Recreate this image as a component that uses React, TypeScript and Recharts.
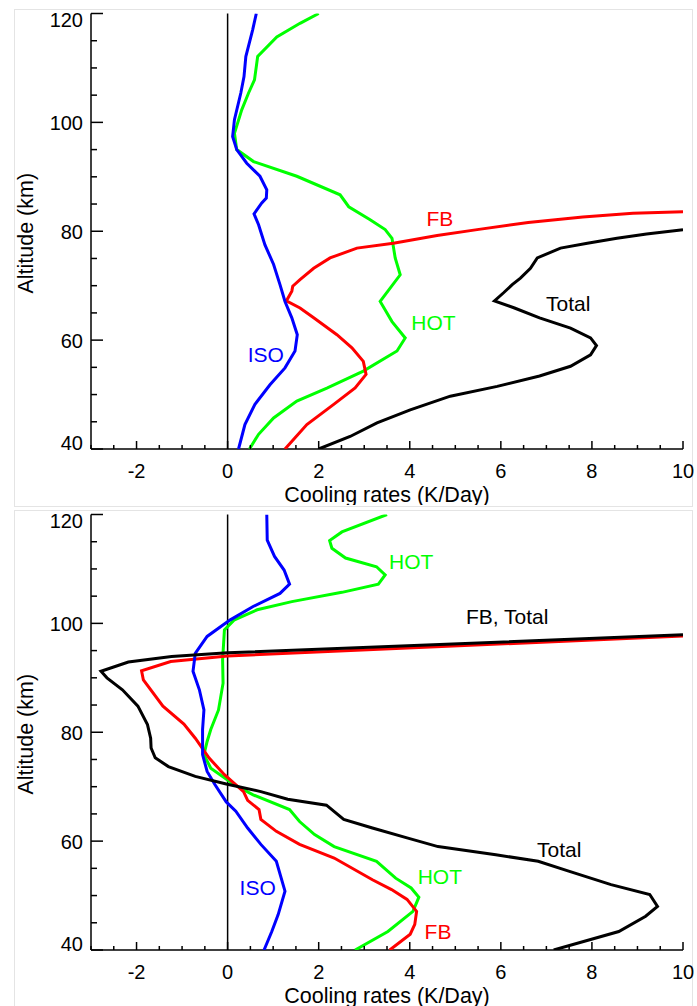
import React from "react";
import { ScatterChart, Scatter, XAxis, YAxis, ReferenceLine } from "recharts";

const FONT = '"Liberation Sans", Arial, Helvetica, sans-serif';

// each point is [altitude (km), cooling rate (K/day)]
type Pt = [number, number];

// ---- upper panel ----
const isoUpper: Pt[] = [
  [120, 0.63], [117, 0.55], [112.1, 0.4], [108.4, 0.36], [105.4, 0.29], [100.5, 0.15],
  [97.4, 0.11], [95, 0.2], [92.5, 0.42], [90.1, 0.71], [87.6, 0.86], [86.1, 0.85],
  [85.2, 0.75], [83.2, 0.58], [81.2, 0.68], [77.5, 0.82], [73.9, 1.01], [70.2, 1.15],
  [67.1, 1.26], [64.1, 1.41], [61, 1.53], [58, 1.48], [54.9, 1.26], [51.8, 0.93],
  [48.2, 0.6], [44.5, 0.38], [40, 0.24],
];
const hotUpper: Pt[] = [
  [120, 2.0], [118.2, 1.59], [115.7, 1.08], [112.1, 0.66], [107.8, 0.59], [105.4, 0.46],
  [102.3, 0.31], [98, 0.15], [95, 0.2], [92.8, 0.57], [90.1, 1.52], [86.7, 2.47],
  [84.5, 2.66], [82.1, 3.13], [80.3, 3.46], [78.7, 3.61], [75.1, 3.68], [72, 3.79],
  [67.1, 3.35], [63.4, 3.61], [60.4, 3.9], [58, 3.72], [54.3, 2.98], [51.2, 2.18],
  [48.8, 1.52], [45.7, 1.01], [42.7, 0.68], [40, 0.48],
];
const fbUpper: Pt[] = [
  [83.6, 10.0], [83.3, 8.9], [82.6, 7.8], [81.6, 6.6], [80.3, 5.48], [79.2, 4.6],
  [77.8, 3.64], [76.9, 2.84], [75.1, 2.25], [73.2, 1.89], [71.1, 1.59], [69.9, 1.43],
  [69, 1.41], [67.2, 1.29], [65.9, 1.59], [64.1, 1.89], [61, 2.4], [58.6, 2.73],
  [56.1, 2.98], [53.7, 3.04], [51.2, 2.8], [48.2, 2.33], [44.5, 1.74], [40, 1.26],
];
const totalUpper: Pt[] = [
  [80.3, 10.0], [79.5, 9.2], [78.7, 8.55], [77.8, 7.9], [76.9, 7.31], [75.1, 6.8],
  [73.2, 6.65], [71.4, 6.43], [70.2, 6.25], [68.7, 6.06], [67.2, 5.86], [65.9, 6.3],
  [64.1, 6.85], [62.2, 7.53], [60.4, 7.97], [59, 8.1], [57.3, 7.97], [55.2, 7.53],
  [53.4, 6.85], [51.5, 5.92], [49.7, 4.89], [47.2, 4.01], [44.8, 3.28], [42.3, 2.69],
  [40, 2.0],
];

// ---- lower panel ----
const isoLower: Pt[] = [
  [120, 0.86], [115.3, 0.87], [112.3, 1.03], [109.8, 1.24], [107.2, 1.36], [105.5, 1.15],
  [103.1, 0.56], [100.6, 0.05], [97.6, -0.45], [94.5, -0.71], [91.2, -0.76], [87.8, -0.62],
  [84.1, -0.52], [80.5, -0.55], [75.9, -0.55], [72.8, -0.45], [70.4, -0.28], [67.2, -0.03],
  [65.5, 0.18], [62.4, 0.44], [59.4, 0.73], [56.3, 1.07], [50.8, 1.26], [46.5, 1.11],
  [43.4, 0.97], [40, 0.8],
];
const hotLower: Pt[] = [
  [120, 3.5], [116.8, 2.51], [115.2, 2.24], [113.8, 2.29], [112, 2.59], [110.4, 3.27],
  [108.9, 3.46], [107.2, 3.31], [105.7, 2.51], [104, 1.41], [102.5, 0.65], [100.6, 0.14],
  [98.8, -0.07], [93.3, -0.11], [89, -0.1], [84.1, -0.2], [80.5, -0.37], [78.3, -0.45],
  [75.9, -0.52], [73.4, -0.37], [70.4, 0.14], [68.5, 0.56], [65.8, 1.36], [63.6, 1.58],
  [61.2, 1.91], [59, 2.34], [56.3, 3.27], [53.2, 3.69], [51.4, 4.03], [49.7, 4.2],
  [47.1, 4.07], [43.4, 3.52], [40, 2.8],
];
const fbLower: Pt[] = [
  [97.7, 10.0], [94, 0.0], [93, -1.25], [91.3, -1.89], [89.6, -1.85], [84.8, -1.42],
  [81.5, -0.96], [78.9, -0.71], [75.3, -0.41], [72.2, -0.07], [69.1, 0.35], [67.5, 0.44],
  [65.8, 0.69], [64, 0.73], [61.8, 1.07], [59.4, 1.58], [56.9, 2.34], [52.9, 3.18],
  [51.1, 3.6], [49.3, 3.94], [47.1, 4.15], [44.7, 4.11], [42.9, 4.01], [40, 3.56],
];
const totalLower: Pt[] = [
  [97.9, 10.0], [94.6, 0.0], [93.9, -1.23], [92.9, -2.18], [91.2, -2.78], [90, -2.65],
  [87.8, -2.31], [84.8, -1.97], [81.4, -1.76], [78.9, -1.69], [77.1, -1.68], [75.3, -1.59],
  [73.7, -1.3], [71.9, -0.71], [70.5, -0.03], [69.1, 0.73], [67.7, 1.32], [66.6, 2.17],
  [64, 2.55], [62.4, 3.18], [60.6, 3.94], [59, 4.62], [57.5, 5.89], [56.3, 6.82],
  [54.5, 7.49], [52, 8.42], [50.2, 9.27], [48, 9.44], [46.2, 9.18], [43.4, 8.59],
  [40, 7.16],
];

// curve labels: [altitude, rate, text]
type Lbl = [number, number, string];
const labelsUpper: Lbl[] = [
  [82.4, 4.66, "FB"], [63.2, 4.52, "HOT"], [66.7, 7.48, "Total"], [57.3, 0.84, "ISO"],
];
const labelsLower: Lbl[] = [
  [111.3, 4.03, "HOT"], [101.2, 6.14, "FB, Total"], [58.4, 7.28, "Total"],
  [53.5, 4.66, "HOT"], [43.4, 4.62, "FB"], [51.4, 0.66, "ISO"],
];

const rateTicks = [
  -3, -2.5, -2, -1.5, -1, -0.5, 0, 0.5, 1, 1.5, 2, 2.5, 3, 3.5, 4, 4.5, 5, 5.5, 6, 6.5,
  7, 7.5, 8, 8.5, 9, 9.5, 10,
];
const altTicks = [40, 45, 50, 55, 60, 65, 70, 75, 80, 85, 90, 95, 100, 105, 110, 115, 120];

const BLUE = "#0000ff";
const GREEN = "#00ff00";
const RED = "#ff0000";
const BLACK = "#000000";

const toRows = (pts: Pt[]) => pts.map(([alt, rate]) => ({ alt, rate }));

const RateTick = (props: any) => {
  const { x, y, payload, side } = props;
  const v = payload.value;
  const major = v % 2 === 0;
  const len = major ? 8 : 4;
  const dir = side === "bottom" ? -1 : 1;
  return (
    <g>
      <line x1={x} x2={x} y1={y} y2={y + dir * len} stroke={BLACK} strokeWidth={1.5} />
      {side === "bottom" && major && (
        <text x={x} y={y + 28.5} textAnchor="middle" fontSize={20} fontFamily={FONT} fill={BLACK}>
          {v}
        </text>
      )}
    </g>
  );
};

const AltTick = (props: any) => {
  const { x, y, payload, side } = props;
  const v = payload.value;
  const major = v % 20 === 0;
  const len = major ? 12 : 6;
  const dir = side === "left" ? 1 : -1;
  // end labels are nudged inside the frame
  const dy = v === 120 ? 13 : v === 40 ? 1 : 8;
  return (
    <g>
      <line x1={x} x2={x + dir * len} y1={y} y2={y} stroke={BLACK} strokeWidth={1.5} />
      {side === "left" && major && (
        <text x={x - 8} y={y + dy} textAnchor="end" fontSize={20} fontFamily={FONT} fill={BLACK}>
          {v}
        </text>
      )}
    </g>
  );
};

type Curve = { pts: Pt[]; color: string };

const Panel = ({ curves, labels }: { curves: Curve[]; labels: Lbl[] }) => {
  const labelRows = labels.map(([alt, rate, text]) => ({ alt, rate, text }));
  const labelColor = (t: string) =>
    t === "ISO" ? BLUE : t === "HOT" ? GREEN : t === "FB" ? RED : BLACK;
  return (
    <ScatterChart width={697} height={505} margin={{ top: 13.5, right: 14, bottom: 0, left: 0 }}>
      <XAxis
        type="number"
        dataKey="rate"
        domain={[-3, 10]}
        allowDataOverflow
        ticks={rateTicks}
        interval={0}
        tickSize={0}
        tickMargin={0}
        height={56}
        axisLine={{ stroke: BLACK, strokeWidth: 1.5 }}
        tickLine={false}
        tick={(p: any) => <RateTick {...p} side="bottom" />}
        label={(p: any) => {
          const vb = p.viewBox;
          return (
            <text
              x={vb.x + vb.width / 2}
              y={vb.y + 52.5}
              textAnchor="middle"
              fontSize={21.5}
              fontFamily={FONT}
              fill={BLACK}
            >
              Cooling rates (K/Day)
            </text>
          );
        }}
      />
      <XAxis
        xAxisId="top"
        orientation="top"
        type="number"
        domain={[-3, 10]}
        allowDataOverflow
        ticks={rateTicks}
        interval={0}
        tickSize={0}
        tickMargin={0}
        height={0}
        axisLine={{ stroke: BLACK, strokeWidth: 1.5 }}
        tickLine={false}
        tick={(p: any) => <RateTick {...p} side="top" />}
      />
      <YAxis
        type="number"
        dataKey="alt"
        domain={[40, 120]}
        allowDataOverflow
        ticks={altTicks}
        interval={0}
        tickSize={0}
        tickMargin={0}
        width={91}
        axisLine={{ stroke: BLACK, strokeWidth: 1.5 }}
        tickLine={false}
        tick={(p: any) => <AltTick {...p} side="left" />}
        label={(p: any) => {
          const vb = p.viewBox;
          const cy = vb.y + vb.height / 2 + 2;
          return (
            <text
              x={32.5}
              y={cy}
              transform={`rotate(-90 32.5 ${cy})`}
              textAnchor="middle"
              fontSize={21.5}
              fontFamily={FONT}
              fill={BLACK}
            >
              Altitude (km)
            </text>
          );
        }}
      />
      <YAxis
        yAxisId="right"
        orientation="right"
        type="number"
        domain={[40, 120]}
        allowDataOverflow
        ticks={altTicks}
        interval={0}
        tickSize={0}
        tickMargin={0}
        width={0}
        axisLine={{ stroke: BLACK, strokeWidth: 1.5 }}
        tickLine={false}
        tick={(p: any) => <AltTick {...p} side="right" />}
      />
      <ReferenceLine x={0} stroke={BLACK} strokeWidth={1.5} />
      {curves.map((c, i) => (
        <Scatter
          key={i}
          data={toRows(c.pts)}
          fill={c.color}
          line={{ stroke: c.color, strokeWidth: 3 }}
          lineJointType="linear"
          shape={() => <g />}
          isAnimationActive={false}
        />
      ))}
      <Scatter
        data={labelRows}
        isAnimationActive={false}
        shape={(p: any) => (
          <text
            x={p.cx}
            y={p.cy}
            textAnchor="middle"
            dominantBaseline="central"
            fontSize={21}
            fontFamily={FONT}
            fill={labelColor(p.payload.text)}
          >
            {p.payload.text}
          </text>
        )}
      />
    </ScatterChart>
  );
};

const frame: React.CSSProperties = {
  position: "absolute",
  left: 14,
  width: 679,
  border: "1px solid #e4e4e4",
  boxSizing: "border-box",
};

export default function App() {
  return (
    <div
      style={{
        position: "absolute",
        left: 0,
        top: 0,
        width: 697,
        height: 1006,
        background: "#fff",
        overflow: "hidden",
      }}
    >
      <div style={{ ...frame, top: 9, height: 498 }} />
      <div style={{ ...frame, top: 510, height: 510 }} />
      <div style={{ position: "absolute", left: 0, top: 0 }}>
        <Panel
          curves={[
            { pts: hotUpper, color: GREEN },
            { pts: fbUpper, color: RED },
            { pts: isoUpper, color: BLUE },
            { pts: totalUpper, color: BLACK },
          ]}
          labels={labelsUpper}
        />
      </div>
      <div style={{ position: "absolute", left: 0, top: 501 }}>
        <Panel
          curves={[
            { pts: hotLower, color: GREEN },
            { pts: fbLower, color: RED },
            { pts: isoLower, color: BLUE },
            { pts: totalLower, color: BLACK },
          ]}
          labels={labelsLower}
        />
      </div>
    </div>
  );
}
